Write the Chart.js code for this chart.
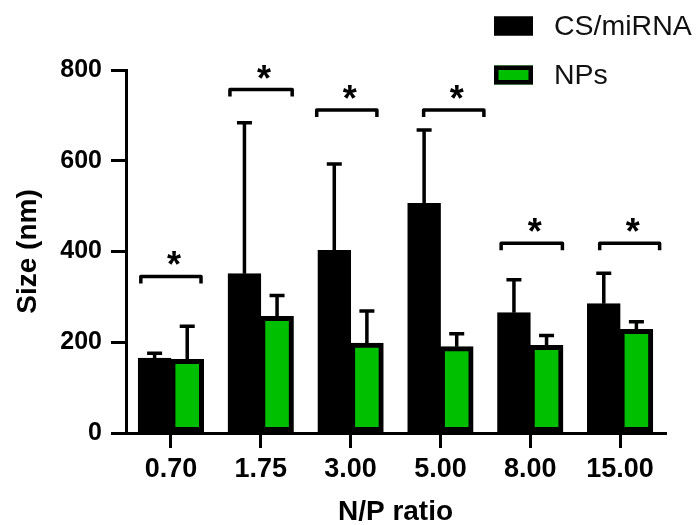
<!DOCTYPE html>
<html>
<head>
<meta charset="utf-8">
<script src="https://cdn.jsdelivr.net/npm/chart.js@4.4.0/dist/chart.umd.min.js"></script>
<style>
  html, body { margin: 0; padding: 0; background: #fff; }
  #wrap { width: 696px; height: 525px; }
</style>
</head>
<body>
<div id="wrap"><canvas id="sizeChart" width="696" height="525"></canvas></div>
<script>
let ratios = ['0.70', '1.75', '3.00', '5.00', '8.00', '15.00']
let csMirna = [165, 351, 402, 506, 265, 285]
let csMirnaSd = [11, 333, 191, 162, 73, 67]
let nps = [162, 257, 198, 190, 193, 228]
let npsSd = [73, 46, 71, 29, 22, 17]
let yTicks = [0, 200, 400, 600, 800]

// significance brackets: height (nm) and span as offset from the category centre
let sigY = [345, 757, 712, 712, 418, 418]
let sigFrom = [-0.335, -0.343, -0.377, -0.187, -0.324, -0.227]
let sigTo = [0.335, 0.35, 0.293, 0.484, 0.358, 0.44]

const FONT = '"Liberation Sans", Arial, sans-serif'
const GREEN = '#00be00'

// error bars, only the upper half like in the original
const errorBars = {
  id: 'errorBars',
  afterDatasetsDraw(chart) {
    const ctx = chart.ctx
    const y = chart.scales.y
    ctx.save()
    ctx.strokeStyle = '#000'
    ctx.lineWidth = 3.5
    chart.data.datasets.forEach((ds, i) => {
      chart.getDatasetMeta(i).data.forEach((bar, j) => {
        const top = y.getPixelForValue(ds.data[j] + ds.sd[j])
        ctx.beginPath()
        ctx.moveTo(bar.x, bar.y)
        ctx.lineTo(bar.x, top)
        ctx.moveTo(bar.x - 7.5, top)
        ctx.lineTo(bar.x + 7.5, top)
        ctx.stroke()
      })
    })
    ctx.restore()
  }
}

const sigBrackets = {
  id: 'sigBrackets',
  afterDatasetsDraw(chart) {
    const ctx = chart.ctx
    const x = chart.scales.x
    const y = chart.scales.y
    ctx.save()
    ctx.strokeStyle = '#000'
    ctx.fillStyle = '#000'
    ctx.lineWidth = 3.5
    ctx.lineJoin = 'round'
    ctx.font = 'bold 36px ' + FONT
    ctx.textAlign = 'center'
    ctx.textBaseline = 'alphabetic'
    sigY.forEach((v, i) => {
      const x0 = x.getPixelForValue(i + sigFrom[i])
      const x1 = x.getPixelForValue(i + sigTo[i])
      const yy = y.getPixelForValue(v)
      ctx.beginPath()
      ctx.moveTo(x0, yy + 7)
      ctx.lineTo(x0, yy)
      ctx.lineTo(x1, yy)
      ctx.lineTo(x1, yy + 7)
      ctx.stroke()
      ctx.fillText('*', (x0 + x1) / 2 + 3, yy + 1)
    })
    ctx.restore()
  }
}

// stacked legend in the top right corner
const sideLegend = {
  id: 'sideLegend',
  afterDraw(chart) {
    const ctx = chart.ctx
    ctx.save()
    ctx.font = '28.5px ' + FONT
    ctx.textBaseline = 'middle'
    ctx.textAlign = 'left'
    chart.data.datasets.forEach((ds, i) => {
      const cy = 26 + i * 49
      ctx.fillStyle = ds.backgroundColor
      ctx.fillRect(494, cy - 9.5, 39, 19)
      ctx.strokeStyle = '#000'
      ctx.lineWidth = 4.5
      ctx.strokeRect(496.25, cy - 7.25, 34.5, 14.5)
      ctx.fillStyle = '#111'
      ctx.fillText(ds.label, 554, cy + 1)
    })
    ctx.restore()
  }
}

new Chart(document.getElementById('sizeChart'), {
  type: 'bar',
  data: {
    labels: ratios,
    datasets: [
      {
        label: 'CS/miRNA',
        data: csMirna,
        sd: csMirnaSd,
        backgroundColor: '#000',
        borderColor: '#000',
        borderWidth: 5,
        borderSkipped: false,
        inflateAmount: 0.5,
        categoryPercentage: 0.726,
        barPercentage: 1
      },
      {
        label: 'NPs',
        data: nps,
        sd: npsSd,
        backgroundColor: GREEN,
        borderColor: '#000',
        borderWidth: 5,
        borderSkipped: false,
        inflateAmount: 0.5,
        categoryPercentage: 0.726,
        barPercentage: 1
      }
    ]
  },
  options: {
    responsive: false,
    animation: false,
    devicePixelRatio: 1,
    layout: { padding: { top: 70, right: 31, left: 0, bottom: 0 } },
    plugins: {
      legend: { display: false },
      tooltip: { enabled: false }
    },
    scales: {
      x: {
        offset: true,
        grid: { offset: false, drawOnChartArea: false, drawTicks: true, tickLength: 15, lineWidth: 3, color: '#000' },
        border: { display: true, width: 3, color: '#000' },
        ticks: { color: '#000', padding: 5, maxRotation: 0, autoSkip: false, font: { family: FONT, size: 27, weight: 'bold' } },
        title: { display: true, text: 'N/P ratio', color: '#000', padding: 0, font: { family: FONT, size: 28, weight: 'bold', lineHeight: 0.93 } },
        afterFit: s => { s.height = 92 }
      },
      y: {
        min: 0,
        max: 800,
        afterBuildTicks: s => { s.ticks = yTicks.map(v => ({ value: v })) },
        grid: { drawOnChartArea: false, drawTicks: true, tickLength: 15, lineWidth: 3, color: '#000' },
        border: { display: true, width: 3, color: '#000' },
        ticks: { color: '#000', padding: 9, font: { family: FONT, size: 25, weight: 'bold' } },
        title: { display: true, text: 'Size (nm)', color: '#000', padding: { top: 11, bottom: 0 }, font: { family: FONT, size: 28, weight: 'bold' } },
        afterFit: s => { s.width = 126 }
      }
    }
  },
  plugins: [errorBars, sigBrackets, sideLegend]
})
</script>
</body>
</html>
